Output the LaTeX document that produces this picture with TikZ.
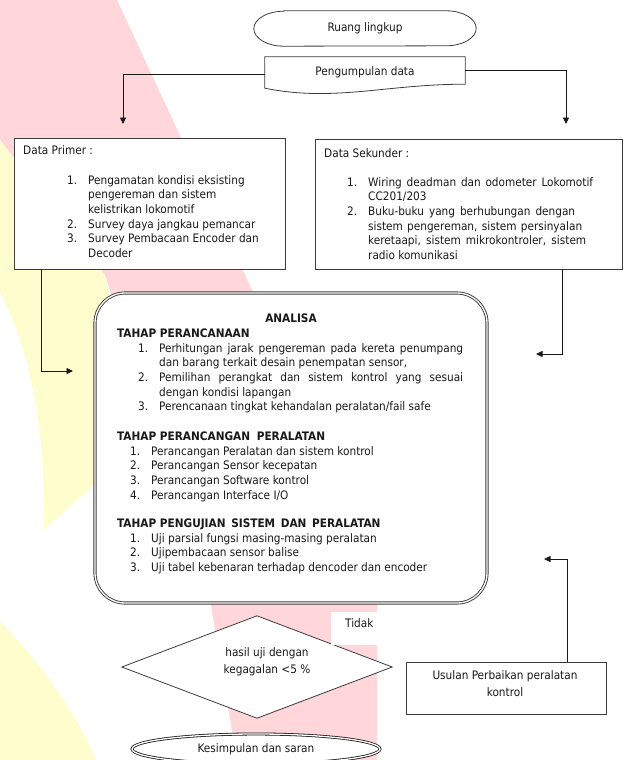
\documentclass[tikz,border=0pt]{standalone}
\usepackage{fontspec}
\setmainfont{DejaVu Sans Condensed}
\usetikzlibrary{arrows.meta,shapes.geometric}
\definecolor{wmpink}{RGB}{255,214,217}
\definecolor{wmyellow}{RGB}{255,252,206}
\definecolor{ink}{RGB}{25,25,25}
\definecolor{lnclr}{RGB}{60,60,60}
\tikzset{
 tx/.style={font=\fontsize{11.7}{14.6}\selectfont, text=ink},
 boxln/.style={draw=lnclr, line width=0.8pt},
 arr/.style={draw=ink, line width=0.8pt, -{Triangle[length=6.5pt,width=6pt]}},
 txt/.style={tx, inner sep=0, align=left, anchor=north west},
 twoline/.style={tx, inner sep=0, align=center, anchor=north, font=\fontsize{11.7}{17}\selectfont},
}
\newcommand{\jb}[2]{\makebox[#1][s]{#2}}
\begin{document}
\begin{tikzpicture}[x=1pt,y=-1pt]
\useasboundingbox (0,0) rectangle (626,760);
% watermark
\fill[wmpink] (0,0) -- (117,0) -- (252,290) -- (377,560) -- (377,760) -- (237,760) -- (210,600) -- (105,275) -- (0,140) -- cycle;
\fill[wmyellow] (0,140) -- (105,275) -- (110,300) -- (110,470) -- (44,530) .. controls (45,440) and (35,360) .. (0,292) -- cycle;
\fill[wmyellow] (0,622) .. controls (40,660) and (80,720) .. (96,760) -- (0,760) -- cycle;

% Ruang lingkup
\node[tx, minimum width=222pt, minimum height=35pt, inner sep=0] (rl) at (365,28.5) {Ruang lingkup};
\draw[boxln] ([xshift=30pt]rl.north west) -- ([xshift=-30pt]rl.north east)
  arc[start angle=90,end angle=-90,x radius=30pt,y radius=17.5pt]
  -- ([xshift=30pt]rl.south west)
  arc[start angle=270,end angle=90,x radius=30pt,y radius=17.5pt] -- cycle;

% Pengumpulan data
\node[tx, minimum width=200pt, minimum height=30pt, inner sep=0] (pd) at (365,72) {Pengumpulan data};
\draw[boxln] (pd.north west) -- (pd.north east) -- ([yshift=3pt]pd.south east)
  .. controls +(-80pt,0pt) and +(70pt,-14pt) .. ([yshift=-1pt]pd.south west) -- cycle;

% Data boxes
\node[boxln, fill=white, minimum width=271pt, minimum height=131pt, inner sep=0] (dp) at (149.5,203.5) {};
\node[boxln, fill=white, minimum width=307pt, minimum height=130pt, inner sep=0] (ds) at (468.5,204) {};

\node[txt] (dpt) at (23,143.8) {\strut Data Primer :\\[15.4pt]
\hspace*{44pt}\makebox[21pt][l]{1.}Pengamatan kondisi eksisting\\
\hspace*{65pt}pengereman dan sistem\\
\hspace*{65pt}kelistrikan lokomotif\\
\hspace*{44pt}\makebox[21pt][l]{2.}Survey daya jangkau pemancar\\
\hspace*{44pt}\makebox[21pt][l]{3.}Survey Pembacaan Encoder dan\\
\hspace*{65pt}Decoder};

\node[txt] (dst) at (324,146.8) {\strut Data Sekunder :\\[14.4pt]
\hspace*{23pt}\makebox[21pt][l]{1.}\jb{225pt}{Wiring deadman dan odometer Lokomotif}\\
\hspace*{44pt}CC201/203\\
\hspace*{23pt}\makebox[21pt][l]{2.}\jb{207pt}{Buku-buku yang berhubungan dengan}\\
\hspace*{44pt}\jb{214pt}{sistem pengereman, sistem persinyalan}\\
\hspace*{44pt}\jb{218pt}{keretaapi, sistem mikrokontroler, sistem}\\
\hspace*{44pt}radio komunikasi};

\coordinate (a1) at (123,124);
\coordinate (a2) at (566,124);
\draw[arr] ([yshift=-2pt]pd.west) -| (a1);
\draw[arr] ([yshift=2pt]pd.east) -| (a2);

% Analisa
\node[draw=lnclr, double=white, double distance=1.3pt, line width=0.9pt, rounded corners=30pt, fill=white, minimum width=392pt, minimum height=310pt, inner sep=0] (an) at (291,448) {};
\node[tx, inner sep=0, anchor=base] (ant) at (291,322) {\textbf{ANALISA}};
\node[txt] (anb) at (117,326.8) {\strut\textbf{TAHAP PERANCANAAN}\\[0.4pt]
\hspace*{21pt}\makebox[21pt][l]{1.}\jb{304pt}{Perhitungan jarak pengereman pada kereta penumpang}\\
\hspace*{42pt}dan barang terkait desain penempatan sensor,\\
\hspace*{21pt}\makebox[21pt][l]{2.}\jb{304pt}{Pemilihan perangkat dan sistem kontrol yang sesuai}\\
\hspace*{42pt}dengan kondisi lapangan\\
\hspace*{21pt}\makebox[21pt][l]{3.}Perencanaan tingkat kehandalan peralatan/fail safe\\[15.4pt]
\textbf{TAHAP PERANCANGAN\hspace{3pt} PERALATAN}\\
\hspace*{13pt}\makebox[21pt][l]{1.}Perancangan Peralatan dan sistem kontrol\\
\hspace*{13pt}\makebox[21pt][l]{2.}Perancangan Sensor kecepatan\\
\hspace*{13pt}\makebox[21pt][l]{3.}Perancangan Software kontrol\\
\hspace*{13pt}\makebox[21pt][l]{4.}Perancangan Interface I/O\\[14pt]
\textbf{TAHAP PENGUJIAN\hspace{2pt} SISTEM\hspace{2pt} DAN\hspace{2pt} PERALATAN}\\
\hspace*{13pt}\makebox[21pt][l]{1.}Uji parsial fungsi masing-masing peralatan\\
\hspace*{13pt}\makebox[21pt][l]{2.}Ujipembacaan sensor balise\\
\hspace*{13pt}\makebox[21pt][l]{3.}Uji tabel kebenaran terhadap dencoder dan encoder};

\coordinate (a3) at (73,371);
\draw[arr] ([xshift=28pt]dp.south west) |- (a3);
\coordinate (a4) at (536,354);
\draw[arr] ([xshift=-60pt]ds.south east) |- (a4);

% Decision
\node[minimum width=270pt, minimum height=102pt, inner sep=0] (dec) at (257,667) {};
\draw[boxln, fill=white] (dec.north) -- (dec.east) -- (dec.south) -- (dec.west) -- cycle;
\node[twoline] (dect) at (267,644.1) {\strut hasil uji dengan\\kegagalan <5 \%};

\node[fill=white, minimum width=48pt, minimum height=33pt, inner sep=0] (tidakbg) at (355,628.5) {};
\node[tx, inner sep=0, anchor=base west] (tidak) at (345,627) {Tidak};

% Usulan
\node[boxln, fill=white, minimum width=200pt, minimum height=52pt, inner sep=0] (us) at (506,688) {};
\node[twoline] (ust) at (505,667.1) {\strut Usulan Perbaikan peralatan\\kontrol};
\coordinate (a5) at (544,559);
\draw[arr] ([xshift=-39pt]us.north east) |- (a5);

% Kesimpulan
\node[tx, draw=ink, double=white, double distance=1.3pt, line width=0.8pt, fill=white, shape=ellipse, minimum width=248pt, minimum height=30pt, inner sep=0] (ks) at (256,749) {Kesimpulan dan saran};
\end{tikzpicture}
\end{document}
